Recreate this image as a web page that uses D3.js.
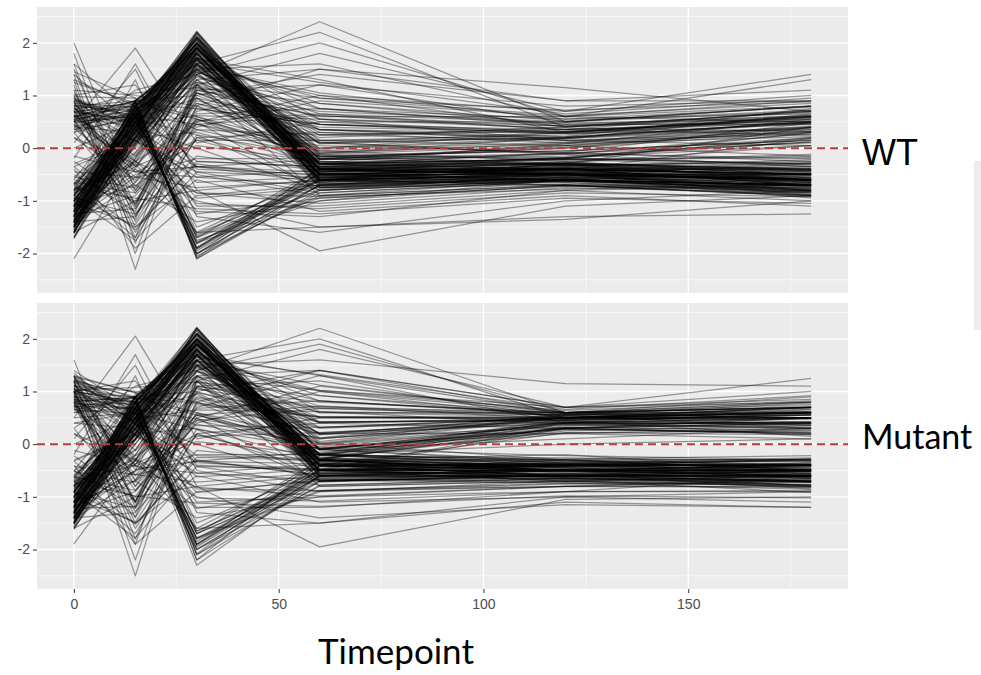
<!DOCTYPE html>
<html>
<head>
<meta charset="utf-8">
<script src="https://cdn.jsdelivr.net/npm/d3@7"></script>
<style>
  html, body { margin: 0; padding: 0; background: #fff; }
  svg { display: block; }
</style>
</head>
<body>
<div id="chart"></div>
<script>
const timepoints = [0, 15, 30, 60, 120, 180];
const panelNames = ['WT', 'Mutant'];
const xTicks = [0, 50, 100, 150];
const xMinor = [25, 75, 125, 175];
const yTicks = [-2, -1, 0, 1, 2];
const yMinor = [-2.5, -1.5, -0.5, 0.5, 1.5, 2.5];

// scaled expression per gene, one row per gene, values at each timepoint
const wtProfiles = [
  [-1.2, 0.4, 1.9, -0.4, -0.5, -0.6], [-1.4, 0.6, 2.0, -0.5, -0.4, -0.7],
  [-1.6, 0.2, 1.8, -0.3, -0.5, -0.5], [-1.0, 0.7, 2.1, -0.6, -0.6, -0.8],
  [-1.3, 0.5, 1.7, -0.2, -0.3, -0.4], [-1.5, 0.3, 2.2, -0.5, -0.5, -0.7],
  [-0.9, 0.8, 1.9, -0.4, -0.4, -0.6], [-1.7, 0.1, 1.6, -0.6, -0.7, -0.9],
  [-1.1, 0.5, 2.0, -0.3, -0.2, -0.3], [-1.3, 0.9, 1.8, -0.5, -0.5, -0.5],
  [-1.2, 0.2, 1.5, -0.1, 0.1, 0.4], [-1.4, 0.4, 1.9, -0.6, -0.5, -0.8],
  [-0.8, 0.6, 2.1, -0.4, -0.3, -0.6], [-1.5, -0.2, 1.7, -0.5, -0.6, -0.7],
  [-1.6, 0.5, 2.0, -0.2, 0.0, 0.3], [-1.0, 0.3, 1.8, -0.7, -0.6, -0.7],
  [-1.3, 0.7, 2.2, -0.4, -0.5, -0.6], [-1.1, 0.0, 1.4, -0.3, -0.4, -0.5],
  [-1.4, 0.8, 1.9, -0.5, -0.4, -0.4], [-1.2, 0.6, 1.6, 0.1, 0.2, 0.5],
  [-0.7, 0.4, 2.0, -0.6, -0.5, -0.7], [-1.5, 0.6, 1.8, -0.4, -0.3, -0.6],
  [-1.3, -0.4, 1.6, -0.5, -0.6, -0.8], [-0.9, 0.2, 1.9, -0.3, -0.4, -0.5],
  [-1.6, 0.4, 2.1, -0.5, -0.5, -0.6], [-1.2, 0.8, 1.7, -0.6, -0.7, -0.7],
  [-1.4, 0.1, 1.5, 0.0, 0.3, 0.6], [-1.0, 0.5, 2.2, -0.4, -0.5, -0.8],
  [-1.1, 0.7, 1.9, -0.2, -0.3, -0.5], [-1.7, 0.3, 1.8, -0.5, -0.4, -0.6],
  [-1.3, 0.6, 2.0, -0.3, -0.2, 0.2], [-0.6, 0.9, 1.7, -0.5, -0.6, -0.7],
  [-1.2, -0.1, 1.3, -0.4, -0.5, -0.6], [-1.5, 0.5, 1.9, -0.6, -0.5, -0.9],
  [-1.0, 0.4, 2.1, -0.1, 0.2, 0.5], [-1.4, 0.7, 1.6, -0.4, -0.4, -0.5],
  [-1.2, 0.3, 1.8, -0.5, -0.6, -0.7], [-0.8, -0.3, 1.5, -0.3, -0.3, -0.4],
  [-1.6, 0.8, 2.0, -0.4, -0.5, -0.6], [-1.1, 0.2, 1.7, -0.6, -0.4, -0.5],
  [0.6, 0.8, -2.0, -0.7, -0.5, -0.6], [0.8, 0.7, -1.9, -0.5, -0.4, -0.5],
  [0.5, 0.9, -2.1, -0.8, -0.6, -0.7], [0.9, 0.6, -1.8, -0.6, -0.3, -0.4],
  [0.7, 0.8, -1.7, -0.4, -0.2, 0.3], [0.6, 0.5, -2.0, -0.9, -0.7, -0.8],
  [0.4, 0.7, -1.9, -0.6, -0.5, -0.6], [0.8, 0.9, -1.6, -0.5, -0.4, -0.7],
  [0.9, 0.4, -2.0, -0.7, -0.6, -0.5], [0.5, 0.6, -1.8, -1.0, -0.7, -0.9],
  [1.3, 0.8, -1.5, -0.6, -0.3, 0.4], [0.7, 0.5, -1.9, -0.4, -0.5, -0.6],
  [0.6, 0.9, -2.1, -0.7, -0.4, -0.5], [0.3, 0.6, -1.7, -0.8, -0.6, -0.7],
  [1.6, -1.4, 0.5, -0.8, -0.5, -0.3], [2.0, -0.8, 1.0, 0.2, 0.4, 0.7],
  [1.4, -1.8, 0.8, -0.3, -0.1, 0.2], [1.2, -2.3, 1.2, 0.5, 0.5, 0.8],
  [1.5, -1.1, 1.4, 0.3, 0.2, 0.5], [1.0, -1.6, 0.2, -0.4, -0.3, -0.4],
  [1.3, -2.0, 1.1, 0.6, 0.6, 0.9], [1.8, -1.3, 0.6, -0.2, 0.0, 0.4],
  [0.9, -1.7, 1.3, 0.1, 0.3, 0.6], [1.1, -1.5, -0.3, -0.6, -0.4, -0.5],
  [-0.5, -1.2, 1.2, -0.9, -0.6, -0.7], [0.2, -0.6, 0.9, 0.4, 0.3, 0.6],
  [-1.3, -0.9, 0.4, 0.9, 0.6, 0.8], [0.4, 0.3, -1.2, -1.3, -0.8, -1.0],
  [-0.9, -1.5, -0.6, -1.2, -0.9, -1.1], [0.1, 1.5, -0.8, -0.6, -0.5, -0.6],
  [-1.6, -1.0, 0.7, 1.2, 0.8, 0.9], [0.7, -0.4, -1.0, -1.5, -1.3, -1.25],
  [-0.3, 0.2, 0.3, -0.3, -0.2, -0.3], [1.0, 1.2, -0.4, -0.5, -0.4, -0.5],
  [-1.1, -0.7, -1.4, -1.0, -0.6, -0.7], [0.5, 1.9, 0.1, 0.5, 0.3, 0.5],
  [-0.4, -1.9, -0.9, -0.7, -0.5, -0.6], [-1.5, 0.9, 0.6, 0.0, 0.2, 0.4],
  [0.3, -1.1, 1.1, 0.7, 0.5, 0.7], [-0.8, 1.3, -1.3, -1.6, -1.0, -0.8],
  [1.4, 0.4, 0.0, -0.8, -0.6, -0.8], [-1.2, -0.5, -0.2, -0.2, -0.1, 0.1],
  [0.8, -0.8, 0.5, 1.0, 0.7, 1.0], [-0.2, 1.6, -0.5, -0.9, -0.7, -0.9],
  [-1.4, -1.3, 0.8, 1.5, 0.9, 1.1], [0.0, 0.5, -1.1, -1.1, -0.8, -0.7],
  [-0.7, -1.7, 0.2, 0.3, 0.1, 0.3], [1.1, 1.0, 0.8, 0.1, -0.1, -0.2],
  [-1.2, 0.5, 1.4, 2.4, 0.5, 0.8], [-0.9, 0.8, 1.6, 2.2, 0.4, 0.6],
  [-1.4, 0.2, 1.2, 1.8, 0.7, 1.4], [-1.0, 0.6, 1.5, 1.6, 0.6, 1.3],
  [0.6, 0.9, 1.0, 1.4, 0.9, 0.9], [-1.3, 0.3, 1.3, 1.5, 1.15, 0.7],
  [-0.8, 0.1, 1.1, 1.2, 0.5, 0.8], [0.3, 1.1, 1.4, 2.0, 0.6, 0.5],
  [-1.5, 0.4, 1.7, 1.3, 0.3, 0.6], [-1.1, 0.7, 1.5, 1.0, 0.4, 0.7],
  [-0.6, -1.0, -0.8, -1.95, -1.1, -0.9], [0.2, -0.3, -1.6, -1.5, -1.35, -1.0],
  [-2.1, -0.2, 1.2, -0.5, -0.4, -0.5],
  [-1.25, 0.35, 1.95, -0.45, -0.42, -0.62], [-1.45, 0.62, 2.05, -0.28, -0.35, -0.55],
  [-0.95, 0.15, 1.72, -0.62, -0.58, -0.83], [-1.55, 0.48, 1.88, -0.15, -0.05, 0.15],
  [-1.05, 0.72, 2.12, -0.52, -0.48, -0.66], [-1.35, -0.15, 1.62, -0.38, -0.52, -0.74],
  [-1.62, 0.55, 2.15, -0.68, -0.62, -0.77], [-0.85, 0.42, 1.83, -0.22, -0.12, 0.28],
  [-1.18, 0.85, 1.98, -0.48, -0.38, -0.45], [-1.48, 0.25, 1.76, -0.55, -0.65, -0.88],
  [-1.32, 0.68, 2.08, -0.35, -0.28, 0.05], [-0.72, 0.58, 1.92, -0.42, -0.46, -0.58],
  [-1.58, 0.05, 1.55, -0.25, -0.32, -0.48], [-1.08, 0.32, 2.18, -0.58, -0.54, -0.72],
  [-1.42, 0.78, 1.85, -0.05, 0.12, 0.42], [-1.22, -0.25, 1.45, -0.72, -0.68, -0.82],
  [-0.98, 0.52, 2.02, -0.32, -0.44, -0.64], [-1.68, 0.38, 1.94, -0.48, -0.56, -0.68],
  [-1.28, 0.92, 1.74, -0.18, 0.02, 0.35], [-1.12, 0.12, 1.66, -0.65, -0.58, -0.62],
  [-1.52, 0.65, 2.22, -0.42, -0.48, -0.78], [-0.88, -0.08, 1.58, -0.28, -0.22, -0.35],
  [-1.38, 0.45, 1.82, 0.15, 0.25, 0.58], [-1.15, 0.75, 2.06, -0.55, -0.62, -0.85],
  [-1.72, 0.22, 1.68, -0.36, -0.42, -0.52], [-0.78, 0.88, 1.95, -0.62, -0.52, -0.56],
  [-1.26, 0.28, 1.52, -0.08, 0.08, 0.22], [-1.46, 0.58, 2.0, -0.75, -0.7, -0.92],
  [-1.02, 0.05, 1.78, -0.45, -0.36, -0.42], [-1.36, 0.82, 1.9, -0.3, -0.4, -0.7],
  [0.55, 0.72, -1.95, -0.62, -0.48, -0.58], [0.75, 0.85, -2.05, -0.85, -0.62, -0.75],
  [0.62, 0.58, -1.82, -0.48, -0.32, -0.42], [0.85, 0.78, -1.68, -0.72, -0.55, -0.65],
  [0.48, 0.65, -1.88, -0.55, -0.42, 0.18], [0.92, 0.52, -1.75, -0.95, -0.72, -0.82],
  [0.68, 0.88, -2.02, -0.38, -0.28, -0.38], [0.58, 0.42, -1.62, -0.68, -0.58, -0.72],
  [0.65, -0.35, 0.85, 0.35, 0.22, 0.48], [0.82, 0.15, -0.45, -0.85, -0.62, -0.78],
  [0.45, -0.85, 0.35, -0.15, -0.18, -0.32], [0.92, 0.45, 0.62, 0.55, 0.42, 0.62],
  [0.38, -0.55, -0.75, -0.62, -0.48, -0.52], [0.72, 1.05, 1.15, 0.85, 0.52, 0.72],
  [0.55, -1.25, -0.15, -0.42, -0.38, -0.56], [0.88, 0.25, -1.05, -1.15, -0.85, -0.92],
  [0.62, -0.15, 0.95, -0.25, -0.32, -0.62], [0.42, 0.65, -0.25, -0.35, -0.22, -0.18],
  [0.78, -0.65, 0.52, 0.65, 0.48, 0.55], [0.95, 0.35, -0.65, -0.55, -0.46, -0.66],
  [0.52, -1.05, 1.05, 0.25, 0.15, 0.32], [0.68, 0.55, 0.25, -0.75, -0.55, -0.68],
  [0.85, -0.25, -1.25, -0.95, -0.72, -0.75], [0.35, 0.85, 0.75, 0.45, 0.35, 0.52],
  [1.45, 0.95, -0.35, -0.45, -0.35, -0.45], [1.6, 0.62, 0.45, 0.05, -0.08, -0.25],
  [0.58, -0.45, -0.35, -0.22, -0.15, 0.12], [0.75, 0.12, 1.22, -0.55, -0.48, -0.6],
  [-0.65, -0.85, 0.55, -0.35, -0.28, -0.42], [-1.25, -1.15, 0.95, 0.45, 0.32, 0.55],
  [-0.45, -0.55, -0.35, -0.65, -0.52, -0.62], [-1.05, -1.45, 0.25, -0.15, -0.05, 0.15],
  [-0.85, -0.25, -0.85, -1.05, -0.75, -0.85], [-1.45, -0.65, 1.05, 0.15, 0.05, -0.15],
  [-0.25, -1.05, 0.65, 0.75, 0.55, 0.65], [-0.95, -1.75, -0.45, -0.55, -0.45, -0.58],
  [-0.55, 0.35, -0.95, -0.75, -0.62, -0.72], [-1.15, -0.35, 0.15, -0.45, -0.38, -0.48],
  [-0.35, -1.35, 1.15, 0.35, 0.28, 0.45], [-0.75, -0.95, -1.15, -1.25, -0.95, -1.05],
  [-1.05, 0.45, 1.65, 0.85, 0.45, 0.62], [-1.35, 0.25, 1.45, 0.65, 0.35, 0.48],
  [-0.95, 0.65, 1.85, 0.55, 0.15, 0.25], [-1.22, 0.38, 1.55, 1.05, 0.55, 0.78],
  [0.45, 0.75, 1.25, 0.95, 0.62, 0.85], [-1.55, 0.18, 1.35, 0.75, 0.42, 0.68],
  [-0.82, 0.55, 1.72, 0.35, 0.18, 0.38], [-1.12, 0.85, 1.62, 1.25, 0.65, 0.95],
  [-1.42, 0.05, 1.25, 0.45, 0.28, 0.58], [-0.68, 0.72, 1.48, 0.25, 0.35, 0.72],
  [-1.18, 0.55, 1.88, -0.12, -0.22, -0.15], [-1.42, 0.32, 1.92, -0.38, -0.18, 0.05],
  [-0.92, 0.68, 2.05, -0.52, -0.32, -0.25], [-1.58, 0.18, 1.72, -0.22, 0.05, 0.32],
  [-1.08, 0.48, 1.98, -0.65, -0.45, -0.35], [-1.32, 0.78, 2.1, -0.02, 0.18, 0.65],
  [-1.62, 0.42, 1.82, -0.75, -0.55, -0.95], [-0.82, 0.28, 1.68, -0.32, -0.08, 0.48],
  [-1.28, 0.62, 2.15, -0.45, -0.25, -0.12], [-1.48, 0.08, 1.6, -0.58, -0.42, -0.28],
  [-1.12, 0.88, 1.9, -0.28, 0.08, 0.55], [-0.68, 0.45, 2.0, -0.52, -0.62, -0.72],
  [-1.38, 0.22, 1.78, 0.08, 0.22, 0.75], [-1.02, 0.65, 2.08, -0.68, -0.58, -0.48],
  [-1.52, 0.35, 1.86, -0.35, -0.48, -0.88], [-1.22, 0.75, 1.96, -0.15, -0.32, -0.42],
  [0.65, 0.75, -1.92, -0.58, -0.35, -0.22], [0.82, 0.62, -1.78, -0.78, -0.52, -0.62],
  [0.52, 0.85, -2.08, -0.45, -0.18, 0.12], [0.95, 0.55, -1.65, -0.62, -0.65, -0.85],
  [0.45, -0.25, 0.45, -0.12, 0.05, 0.38], [0.75, 0.35, -0.35, -0.52, -0.38, -0.42],
  [0.88, -0.72, 0.15, 0.15, 0.18, 0.48], [0.35, 0.55, 0.95, -0.38, -0.45, -0.55],
  [0.62, -0.45, -0.55, -0.72, -0.62, -0.82], [0.98, 0.95, 0.35, 0.25, 0.32, 0.62],
  [0.55, 0.15, -0.85, -0.92, -0.78, -0.68], [0.72, -1.15, 0.75, 0.45, 0.28, 0.35],
  [-0.55, -0.75, 0.85, 0.12, -0.12, -0.35], [-1.35, -0.55, 0.55, -0.05, -0.25, -0.52],
  [-0.35, 0.15, -0.55, -0.42, -0.32, -0.28], [-0.95, -1.25, 0.45, 0.62, 0.42, 0.52],
  [-0.15, -0.45, 0.05, -0.25, -0.42, -0.65], [-0.65, -1.55, -0.25, -0.35, -0.18, 0.18],
  [-1.15, 0.35, 1.45, 0.55, 0.38, 0.32], [-0.88, 0.62, 1.72, 0.75, 0.45, 0.45],
  [-1.28, 0.15, 1.38, 0.35, 0.15, 0.05], [-1.45, 0.48, 1.58, 0.95, 0.72, 0.88],
  [1.25, 0.85, 0.55, -0.15, -0.28, -0.45], [1.05, -0.35, 1.05, 0.62, 0.35, 0.25]
];

const mutantProfiles = [
  [-1.1, 0.5, 1.9, -0.3, -0.5, -0.5], [-1.3, 0.7, 2.1, -0.4, -0.6, -0.7],
  [-1.5, 0.3, 1.8, -0.2, -0.4, -0.4], [-0.9, 0.8, 2.0, -0.5, -0.6, -0.6],
  [-1.2, 0.4, 1.7, -0.1, 0.3, 0.4], [-1.4, 0.2, 2.2, -0.4, -0.5, -0.6],
  [-0.8, 0.6, 1.9, -0.3, -0.4, -0.5], [-1.6, 0.0, 1.6, -0.5, -0.7, -0.8],
  [-1.0, 0.6, 2.0, -0.2, 0.2, 0.3], [-1.2, 0.9, 1.8, -0.4, -0.5, -0.4],
  [-1.1, 0.1, 1.5, 0.0, 0.4, 0.5], [-1.3, 0.5, 1.9, -0.5, -0.6, -0.7],
  [-0.7, 0.7, 2.1, -0.3, -0.3, -0.5], [-1.4, -0.3, 1.7, -0.4, -0.5, -0.6],
  [-1.5, 0.4, 2.0, -0.1, 0.3, 0.5], [-0.9, 0.2, 1.8, -0.6, -0.6, -0.6],
  [-1.2, 0.8, 2.2, -0.3, -0.5, -0.5], [-1.0, -0.1, 1.4, -0.2, -0.3, -0.4],
  [-1.3, 0.7, 1.9, -0.4, -0.4, -0.3], [-1.1, 0.5, 1.6, 0.2, 0.5, 0.6],
  [-0.6, 0.3, 2.0, -0.5, -0.5, -0.6], [-1.4, 0.6, 1.8, -0.3, -0.2, -0.5],
  [-1.2, -0.5, 1.6, -0.4, -0.6, -0.7], [-0.8, 0.1, 1.9, -0.2, -0.4, -0.4],
  [-1.5, 0.5, 2.1, -0.4, -0.5, -0.5], [-1.1, 0.9, 1.7, -0.5, -0.7, -0.6],
  [-1.3, 0.0, 1.5, 0.1, 0.5, 0.7], [-0.9, 0.4, 2.2, -0.3, -0.5, -0.7],
  [-1.0, 0.8, 1.9, -0.1, 0.4, 0.4], [-1.6, 0.2, 1.8, -0.4, -0.4, -0.5],
  [-1.2, 0.6, 2.0, -0.2, 0.3, 0.2], [-0.5, 0.9, 1.7, -0.4, -0.6, -0.6],
  [-1.1, -0.2, 1.3, -0.3, -0.5, -0.5], [-1.4, 0.4, 1.9, -0.5, -0.5, -0.8],
  [-0.9, 0.3, 2.1, 0.0, 0.5, 0.5], [-1.3, 0.7, 1.6, -0.3, -0.4, -0.4],
  [-1.1, 0.2, 1.8, -0.4, -0.6, -0.6], [-0.7, -0.4, 1.5, -0.2, -0.3, -0.3],
  [-1.5, 0.8, 2.0, -0.3, -0.5, -0.5], [-1.0, 0.1, 1.7, -0.5, -0.4, -0.4],
  [0.9, 0.8, -2.0, -0.6, -0.5, -0.5], [1.1, 0.7, -1.9, -0.5, -0.4, -0.4],
  [0.7, 0.9, -2.2, -0.7, -0.6, -0.6], [1.3, 0.6, -1.8, -0.5, -0.3, -0.3],
  [1.0, 0.8, -1.7, -0.3, 0.4, 0.4], [0.8, 0.5, -2.0, -0.8, -0.7, -0.7],
  [0.6, 0.7, -2.3, -0.6, -0.5, -0.5], [1.2, 0.9, -1.6, -0.4, -0.4, -0.6],
  [1.35, 0.4, -2.0, -0.6, -0.6, -0.4], [0.5, 0.6, -1.8, -0.9, -0.7, -0.8],
  [1.0, 0.8, -1.5, -0.5, 0.3, 0.5], [0.9, 0.5, -1.9, -0.3, -0.5, -0.5],
  [0.8, 0.9, -2.1, -0.6, -0.4, -0.4], [0.4, 0.6, -1.7, -0.7, -0.6, -0.6],
  [1.6, -1.2, 0.5, -0.7, -0.5, -0.4], [1.3, -0.8, 1.0, 0.3, 0.5, 0.6],
  [1.2, -1.8, 0.8, -0.2, 0.0, 0.1], [1.0, -2.5, 1.2, 0.6, 0.6, 0.7],
  [1.3, -1.1, 1.4, 0.4, 0.5, 0.5], [0.9, -1.6, 0.2, -0.5, -0.4, -0.5],
  [1.1, -2.2, 1.1, 0.7, 0.6, 0.8], [1.2, -1.4, 0.6, -0.1, 0.1, 0.3],
  [0.8, -1.9, 1.3, 0.2, 0.4, 0.5], [1.0, -1.5, -0.3, -0.6, -0.5, -0.5],
  [-0.5, -1.2, 1.2, -0.8, -0.7, -0.6], [0.2, -0.6, 0.9, 0.5, 0.5, 0.6],
  [-1.3, -0.9, 0.4, 1.0, 0.6, 0.7], [0.4, 0.3, -1.2, -1.2, -0.9, -0.9],
  [-0.9, -1.5, -0.6, -1.1, -1.0, -1.1], [0.1, 1.5, -0.8, -0.6, -0.6, -0.5],
  [-1.6, -1.0, 0.7, 1.3, 0.6, 0.8], [0.7, -0.4, -1.0, -1.4, -1.15, -1.2],
  [-0.3, 0.2, 0.3, -0.3, -0.4, -0.3], [1.0, 1.2, -0.4, -0.5, -0.5, -0.4],
  [-1.1, -0.7, -1.4, -1.0, -0.8, -0.7], [0.5, 2.05, 0.1, 0.5, 0.5, 0.5],
  [-0.4, -1.9, -0.9, -0.7, -0.6, -0.5], [-1.5, 0.9, 0.6, 0.1, 0.5, 0.5],
  [0.3, -1.1, 1.1, 0.8, 0.6, 0.6], [-0.8, 1.3, -1.3, -1.5, -1.0, -0.9],
  [1.2, 0.4, 0.0, -0.7, -0.6, -0.7], [-1.2, -0.5, -0.2, -0.2, 0.3, 0.2],
  [0.8, -0.8, 0.5, 1.1, 0.6, 0.9], [-0.2, 1.7, -0.5, -0.9, -0.8, -0.8],
  [-1.4, -1.3, 0.8, 1.4, 0.7, 1.0], [0.0, 0.5, -1.1, -1.0, -0.9, -0.6],
  [-0.7, -1.7, 0.2, 0.4, 0.3, 0.4], [1.1, 1.0, 0.8, 0.2, 0.2, 0.1],
  [-1.2, 0.5, 1.4, 2.2, 0.6, 0.7], [-0.9, 0.8, 1.6, 2.0, 0.5, 0.6],
  [-1.4, 0.2, 1.2, 1.8, 0.7, 1.25], [-1.0, 0.6, 1.5, 1.6, 1.15, 1.1],
  [0.6, 0.9, 1.0, 1.4, 0.7, 0.8], [-1.3, 0.3, 1.3, 1.4, 0.6, 0.7],
  [-0.8, 0.1, 1.1, 1.2, 0.5, 0.6], [0.3, 1.1, 1.4, 1.9, 0.6, 0.5],
  [-1.5, 0.4, 1.7, 1.3, 0.4, 0.6], [-1.1, 0.7, 1.5, 1.0, 0.5, 0.7],
  [-0.6, -1.0, -0.8, -1.95, -1.05, -1.0], [0.2, -0.3, -1.6, -1.5, -1.1, -1.2],
  [-1.9, -0.3, 1.2, -0.5, -0.5, -0.5],
  [-1.15, 0.42, 1.95, -0.35, -0.45, -0.52], [-1.35, 0.68, 2.08, -0.22, -0.38, -0.46],
  [-0.85, 0.18, 1.75, -0.55, -0.62, -0.72], [-1.45, 0.52, 1.9, -0.08, 0.32, 0.38],
  [-0.95, 0.75, 2.15, -0.45, -0.52, -0.58], [-1.25, -0.22, 1.65, -0.32, -0.48, -0.66],
  [-1.52, 0.58, 2.18, -0.62, -0.66, -0.72], [-0.75, 0.45, 1.82, -0.18, 0.38, 0.42],
  [-1.08, 0.88, 1.98, -0.42, -0.42, -0.38], [-1.38, 0.28, 1.78, -0.48, -0.62, -0.78],
  [-1.22, 0.72, 2.1, -0.28, 0.45, 0.55], [-0.62, 0.62, 1.92, -0.36, -0.5, -0.52],
  [-1.48, 0.08, 1.58, -0.18, -0.36, -0.42], [-0.98, 0.35, 2.2, -0.52, -0.58, -0.64],
  [-1.32, 0.82, 1.86, 0.02, 0.52, 0.62], [-1.12, -0.32, 1.48, -0.65, -0.72, -0.76],
  [-0.88, 0.55, 2.02, -0.25, -0.46, -0.56], [-1.58, 0.42, 1.95, -0.42, -0.58, -0.62],
  [-1.18, 0.95, 1.76, -0.12, 0.42, 0.48], [-1.02, 0.15, 1.68, -0.58, -0.62, -0.58],
  [-1.42, 0.68, 2.22, -0.36, -0.52, -0.72], [-0.78, -0.12, 1.6, -0.22, -0.26, -0.32],
  [-1.28, 0.48, 1.84, 0.18, 0.55, 0.68], [-1.05, 0.78, 2.06, -0.48, -0.64, -0.78],
  [-1.62, 0.25, 1.7, -0.3, -0.44, -0.48], [-0.68, 0.9, 1.96, -0.55, -0.56, -0.52],
  [-1.16, 0.32, 1.55, -0.02, 0.36, 0.32], [-1.36, 0.62, 2.0, -0.68, -0.74, -0.86],
  [-0.92, 0.08, 1.8, -0.4, -0.4, -0.38], [-1.26, 0.85, 1.92, -0.26, -0.44, -0.64],
  [0.85, 0.75, -1.95, -0.55, -0.5, -0.52], [1.05, 0.88, -2.1, -0.78, -0.64, -0.7],
  [0.92, 0.62, -1.85, -0.42, -0.36, -0.38], [1.18, 0.8, -1.7, -0.65, -0.58, -0.6],
  [0.78, 0.68, -1.9, -0.48, 0.35, 0.42], [1.25, 0.55, -1.78, -0.88, -0.74, -0.78],
  [0.98, 0.9, -2.2, -0.32, -0.32, -0.34], [0.72, 0.45, -1.65, -0.62, -0.6, -0.66],
  [0.95, -0.38, 0.88, 0.42, 0.48, 0.5], [1.12, 0.18, -0.42, -0.78, -0.66, -0.72],
  [0.75, -0.88, 0.38, -0.08, -0.22, -0.3], [1.22, 0.48, 0.65, 0.62, 0.55, 0.6],
  [0.68, -0.58, -0.72, -0.55, -0.52, -0.5], [1.02, 1.08, 1.18, 0.92, 0.58, 0.7],
  [0.85, -1.28, -0.12, -0.35, -0.42, -0.52], [1.18, 0.28, -1.02, -1.08, -0.9, -0.88],
  [0.92, -0.12, 0.98, -0.18, -0.36, -0.56], [0.72, 0.68, -0.22, -0.28, 0.28, 0.22],
  [1.08, -0.68, 0.55, 0.72, 0.56, 0.58], [1.25, 0.38, -0.62, -0.48, -0.5, -0.62],
  [0.82, -1.08, 1.08, 0.32, 0.42, 0.38], [0.98, 0.58, 0.28, -0.68, -0.58, -0.64],
  [1.15, -0.28, -1.22, -0.88, -0.76, -0.72], [0.65, 0.88, 0.78, 0.52, 0.48, 0.55],
  [1.3, 0.98, -0.32, -0.38, -0.38, -0.42], [1.4, 0.65, 0.48, 0.12, 0.32, 0.28],
  [0.88, -0.48, -0.32, -0.15, 0.3, 0.18], [1.05, 0.15, 1.25, -0.48, -0.52, -0.56],
  [-0.62, -0.88, 0.58, -0.28, -0.32, -0.38], [-1.22, -1.18, 0.98, 0.52, 0.5, 0.58],
  [-0.42, -0.58, -0.32, -0.58, -0.56, -0.58], [-1.02, -1.48, 0.28, -0.08, 0.28, 0.22],
  [-0.82, -0.28, -0.82, -0.98, -0.8, -0.82], [-1.42, -0.68, 1.08, 0.22, 0.42, 0.35],
  [-0.22, -1.08, 0.68, 0.82, 0.58, 0.62], [-0.92, -1.78, -0.42, -0.48, -0.5, -0.55],
  [-0.52, 0.38, -0.92, -0.68, -0.66, -0.7], [-1.12, -0.38, 0.18, -0.38, -0.42, -0.45],
  [-0.32, -1.38, 1.18, 0.42, 0.46, 0.48], [-0.72, -0.98, -1.12, -1.18, -0.98, -1.02],
  [-1.02, 0.48, 1.68, 0.92, 0.52, 0.6], [-1.32, 0.28, 1.48, 0.72, 0.48, 0.5],
  [-0.92, 0.68, 1.88, 0.62, 0.38, 0.3], [-1.18, 0.42, 1.58, 1.12, 0.6, 0.75],
  [0.75, 0.78, 1.28, 1.02, 0.64, 0.82], [-1.52, 0.22, 1.38, 0.82, 0.55, 0.66],
  [-0.78, 0.58, 1.75, 0.42, 0.44, 0.4], [-1.08, 0.88, 1.65, 1.32, 0.66, 0.92],
  [-1.38, 0.08, 1.28, 0.52, 0.46, 0.56], [-0.65, 0.75, 1.52, 0.32, 0.5, 0.7],
  [-1.12, 0.58, 1.88, -0.08, 0.22, 0.25], [-1.32, 0.35, 1.92, -0.32, -0.28, -0.22],
  [-0.82, 0.7, 2.05, -0.48, -0.36, -0.32], [-1.48, 0.2, 1.72, -0.18, 0.42, 0.58],
  [-0.98, 0.5, 1.98, -0.6, -0.48, -0.42], [-1.22, 0.8, 2.1, 0.05, 0.55, 0.78],
  [-1.55, 0.45, 1.82, -0.7, -0.68, -0.92], [-0.72, 0.3, 1.68, -0.28, 0.25, 0.35],
  [-1.18, 0.65, 2.15, -0.42, -0.38, -0.28], [-1.4, 0.1, 1.6, -0.55, -0.52, -0.35],
  [-1.02, 0.9, 1.9, -0.22, 0.48, 0.62], [-0.58, 0.48, 2.0, -0.48, -0.65, -0.68],
  [-1.28, 0.25, 1.78, 0.12, 0.58, 0.72], [-0.92, 0.68, 2.08, -0.62, -0.6, -0.52],
  [-1.45, 0.38, 1.86, -0.3, -0.55, -0.85], [-1.12, 0.78, 1.96, -0.1, -0.35, -0.45],
  [0.95, 0.78, -1.92, -0.52, -0.42, -0.28], [1.12, 0.65, -1.78, -0.72, -0.56, -0.6],
  [0.82, 0.88, -2.08, -0.4, 0.22, 0.18], [1.28, 0.58, -1.65, -0.58, -0.66, -0.82],
  [0.75, -0.22, 0.45, -0.05, 0.38, 0.42], [1.05, 0.38, -0.35, -0.48, -0.42, -0.4],
  [1.18, -0.7, 0.15, 0.22, 0.45, 0.55], [0.65, 0.58, 0.95, -0.32, -0.48, -0.5],
  [0.92, -0.42, -0.55, -0.68, -0.64, -0.78], [1.28, 0.98, 0.35, 0.32, 0.5, 0.65],
  [0.85, 0.18, -0.85, -0.88, -0.8, -0.66], [1.02, -1.12, 0.75, 0.52, 0.52, 0.42],
  [-0.52, -0.72, 0.85, 0.18, 0.4, 0.3], [-1.32, -0.52, 0.55, 0.02, -0.3, -0.5],
  [-0.32, 0.18, -0.55, -0.38, -0.36, -0.26], [-0.92, -1.22, 0.45, 0.68, 0.55, 0.5],
  [-0.12, -0.42, 0.05, -0.2, -0.45, -0.62], [-0.62, -1.52, -0.25, -0.3, 0.32, 0.25],
  [-1.12, 0.38, 1.45, 0.6, 0.52, 0.36], [-0.85, 0.65, 1.72, 0.82, 0.58, 0.5],
  [-1.25, 0.18, 1.38, 0.42, 0.45, 0.15], [-1.42, 0.52, 1.58, 1.02, 0.7, 0.85],
  [1.22, 0.88, 0.55, -0.1, -0.32, -0.48], [1.0, -0.32, 1.05, 0.68, 0.55, 0.3]
];

const width = 981, height = 675;
const plotLeft = 37, plotRight = 848;
const panelBoxes = [
  { top: 7, bottom: 293, labelY: 165 },
  { top: 303, bottom: 589, labelY: 449 }
];

const svg = d3.select('#chart').append('svg')
  .attr('width', width)
  .attr('height', height)
  .style('background', '#fff');

const xScale = d3.scaleLinear()
  .domain([-9, 189])
  .range([plotLeft, plotRight]);

const line = d3.line()
  .x((d, i) => xScale(timepoints[i]))
  .y(d => d);

function drawPanel(profiles, box, name, isBottom) {
  const yScale = d3.scaleLinear()
    .domain([-2.75, 2.68])
    .range([box.bottom, box.top]);

  const g = svg.append('g').attr('class', 'panel');

  g.append('rect')
    .attr('x', plotLeft)
    .attr('y', box.top)
    .attr('width', plotRight - plotLeft)
    .attr('height', box.bottom - box.top)
    .attr('fill', '#ebebeb');

  // minor grid
  g.selectAll('.ymin').data(yMinor).enter().append('line')
    .attr('x1', plotLeft).attr('x2', plotRight)
    .attr('y1', d => yScale(d)).attr('y2', d => yScale(d))
    .attr('stroke', '#fff').attr('stroke-width', 0.6);
  g.selectAll('.xmin').data(xMinor).enter().append('line')
    .attr('y1', box.top).attr('y2', box.bottom)
    .attr('x1', d => xScale(d)).attr('x2', d => xScale(d))
    .attr('stroke', '#fff').attr('stroke-width', 0.6);

  // major grid
  g.selectAll('.ymaj').data(yTicks).enter().append('line')
    .attr('x1', plotLeft).attr('x2', plotRight)
    .attr('y1', d => yScale(d)).attr('y2', d => yScale(d))
    .attr('stroke', '#fff').attr('stroke-width', 1.3);
  g.selectAll('.xmaj').data(xTicks).enter().append('line')
    .attr('y1', box.top).attr('y2', box.bottom)
    .attr('x1', d => xScale(d)).attr('x2', d => xScale(d))
    .attr('stroke', '#fff').attr('stroke-width', 1.3);

  g.selectAll('.gene').data(profiles).enter().append('path')
    .attr('class', 'gene')
    .attr('d', d => line(d.map(v => yScale(v))))
    .attr('fill', 'none')
    .attr('stroke', '#000')
    .attr('stroke-opacity', 0.38)
    .attr('stroke-width', 1.25)
    .attr('stroke-linejoin', 'round');

  g.append('line')
    .attr('x1', plotLeft).attr('x2', plotRight)
    .attr('y1', yScale(0)).attr('y2', yScale(0))
    .attr('stroke', '#b53d3b')
    .attr('stroke-width', 2)
    .attr('stroke-dasharray', '8,5');

  const yAxis = g.append('g')
    .attr('transform', `translate(${plotLeft},0)`)
    .call(d3.axisLeft(yScale).tickValues(yTicks).tickSize(4).tickPadding(3)
      .tickFormat(d => String(d)));
  yAxis.select('.domain').remove();
  yAxis.selectAll('line').attr('stroke', '#333');
  yAxis.selectAll('text')
    .attr('fill', '#4d4d4d')
    .style('font-family', '"Liberation Sans", Arial, sans-serif')
    .style('font-size', '14px');

  if (isBottom) {
    const xAxis = g.append('g')
      .attr('transform', `translate(0,${box.bottom})`)
      .call(d3.axisBottom(xScale).tickValues(xTicks).tickSize(4).tickPadding(6));
    xAxis.select('.domain').remove();
    xAxis.selectAll('line').attr('stroke', '#333');
    xAxis.selectAll('text')
      .attr('fill', '#4d4d4d')
      .style('font-family', '"Liberation Sans", Arial, sans-serif')
      .style('font-size', '14px');
  }

  svg.append('text')
    .attr('x', 862)
    .attr('y', box.labelY)
    .style('font-family', name === 'WT' ? '"Liberation Sans", Arial, sans-serif' : 'Lato, sans-serif')
    .style('font-size', name === 'WT' ? '36px' : '34px')
    .attr('fill', '#000')
    .text(name);
}

drawPanel(wtProfiles, panelBoxes[0], panelNames[0], false);
drawPanel(mutantProfiles, panelBoxes[1], panelNames[1], true);

svg.append('text')
  .attr('x', 396)
  .attr('y', 664)
  .attr('text-anchor', 'middle')
  .style('font-family', 'Lato, sans-serif')
  .style('font-size', '35px')
  .attr('fill', '#000')
  .text('Timepoint');

// faint box at the right edge (cropped legend background)
svg.append('rect')
  .attr('x', 974).attr('y', 161)
  .attr('width', 7).attr('height', 169)
  .attr('fill', '#ececec');
</script>
</body>
</html>
